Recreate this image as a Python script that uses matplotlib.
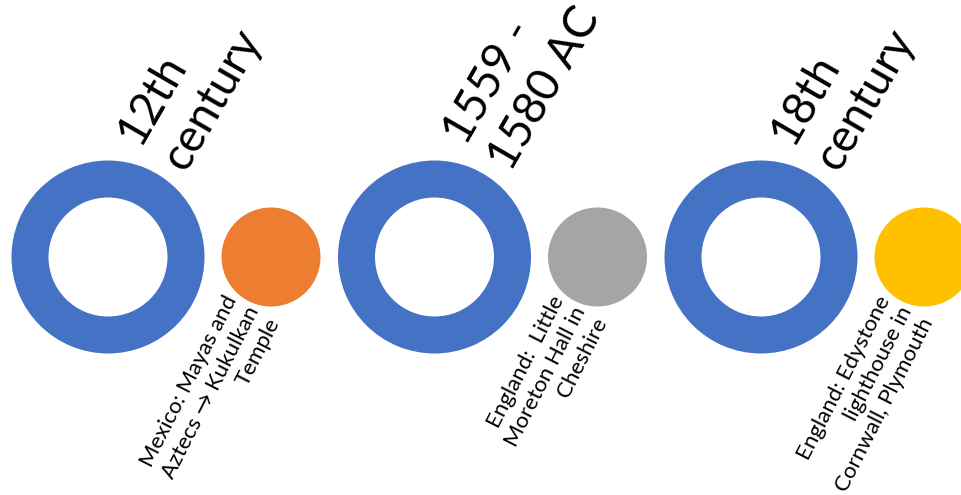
import matplotlib.pyplot as plt
from matplotlib.patches import Circle, Wedge

plt.rcParams['font.family'] = ['Lato', 'DejaVu Sans']

# timeline data
periods = ['12th\ncentury', '1559 -\n1580 AC', '18th\ncentury']
places = ['Mexico: Mayas and\nAztecs \u2192 Kukulkan\nTemple',
          'England:  Little\nMoreton Hall in\nCheshire',
          'England: Edystone\nlighthouse in\nCornwall, Plymouth']
dot_colors = ['#ED7D31', '#A5A5A5', '#FFC000']
ring_color = '#4472C4'

W, H = 962, 495
fig = plt.figure(figsize=(W / 100, H / 100), dpi=100)
ax = fig.add_axes([0, 0, 1, 1])
ax.set_xlim(0, W)
ax.set_ylim(H, 0)
ax.set_aspect('equal')
ax.axis('off')

step = 326.5
cy = 257
for i, (per, pl, col) in enumerate(zip(periods, places, dot_colors)):
    rx = 108 + i * step
    dx = rx + 163
    ax.add_patch(Wedge((rx, cy), 96.5, 0, 360, width=37, color=ring_color, lw=0))
    ax.add_patch(Circle((dx, cy), 49.5, color=col, lw=0))
    # va='baseline' anchors the last line here
    ax.text(rx + 68, 168, per, rotation=60, rotation_mode='anchor',
            ha='left', va='baseline', multialignment='left',
            fontsize=33, linespacing=1.3)
    ax.text(dx + 6, 320, pl, rotation=63, rotation_mode='anchor',
            ha='right', va='baseline', multialignment='right',
            fontsize=16, linespacing=1.25)

fig.savefig('out.png', dpi=100)
